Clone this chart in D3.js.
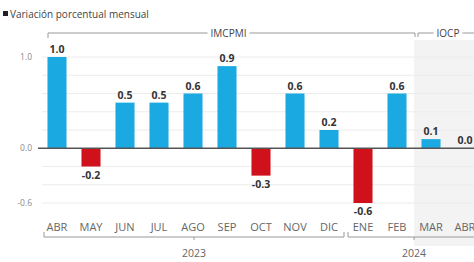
<!DOCTYPE html>
<html lang="es">
<head>
<meta charset="UTF-8">
<title>Variación porcentual mensual</title>
<script src="https://d3js.org/d3.v7.min.js"></script>
<style>
  body { margin: 0; background: #fff; }
  text { font-family: 'Open Sans', sans-serif; }
</style>
</head>
<body>
<script>
// Data
const months = ["ABR", "MAY", "JUN", "JUL", "AGO", "SEP", "OCT", "NOV", "DIC", "ENE", "FEB", "MAR", "ABR "];
const values = [1.0, -0.2, 0.5, 0.5, 0.6, 0.9, -0.3, 0.6, 0.2, -0.6, 0.6, 0.1, 0.0];
const yTicks = [1.0, 0.0, -0.6];
const gridTicks = [1.0, 0.8, 0.6, 0.4, 0.2, -0.2, -0.4, -0.6];
const years = [{label: "2023", from: 0, to: 8}, {label: "2024", from: 9, to: 12}];
const series = [{label: "IMCPMI", from: 0, to: 10}, {label: "IOCP", from: 11, to: 12}];

const W = 474, H = 262;
const svg = d3.select("body").append("svg").attr("width", W).attr("height", H);

const x = d3.scaleBand().domain(months).range([40, 482]).paddingInner(0.44).paddingOuter(0.22);
const y = d3.scaleLinear().domain([-0.6, 1.0]).range([203, 57]);
const step = x.step();
const cx = i => x(months[i]) + x.bandwidth() / 2;

// shaded area for IOCP
svg.append("rect")
    .attr("x", cx(11) - step / 2).attr("y", 40)
    .attr("width", W).attr("height", 206)
    .attr("fill", "#f3f3f3");

// gridlines
svg.selectAll(".grid").data(gridTicks).enter().append("line")
    .attr("x1", 42).attr("x2", W)
    .attr("y1", d => y(d)).attr("y2", d => y(d))
    .attr("stroke", "#ececec").attr("stroke-width", 1);

// y labels
svg.selectAll(".ylab").data(yTicks).enter().append("text")
    .attr("x", 32).attr("y", d => y(d) + 3)
    .attr("text-anchor", "end")
    .attr("font-size", 8.5).attr("fill", "#8a8a8a")
    .text(d => d.toFixed(1));

// bars
svg.selectAll(".bar").data(values).enter().append("rect")
    .attr("x", (d, i) => x(months[i]))
    .attr("width", x.bandwidth())
    .attr("y", d => y(Math.max(0, d)))
    .attr("height", d => Math.abs(y(d) - y(0)))
    .attr("fill", d => d < 0 ? "#d0101a" : "#1ba9e2");

// zero line
svg.append("line")
    .attr("x1", 38).attr("x2", W)
    .attr("y1", y(0)).attr("y2", y(0))
    .attr("stroke", "#555").attr("stroke-width", 1.5);

// value labels
svg.selectAll(".val").data(values).enter().append("text")
    .attr("x", (d, i) => cx(i))
    .attr("y", d => d < 0 ? y(d) + 12 : y(d) - 4)
    .attr("text-anchor", "middle")
    .attr("font-size", 10.5).attr("font-weight", "bold").attr("fill", "#333")
    .text(d => d.toFixed(1));

// month labels
svg.selectAll(".mon").data(months).enter().append("text")
    .attr("x", (d, i) => cx(i))
    .attr("y", 231)
    .attr("text-anchor", "middle")
    .attr("font-size", 11).attr("fill", "#666")
    .text(d => d.trim());

// year brackets
const by = 237;
years.forEach((g, k) => {
  const x0 = cx(g.from) - step / 2 + (k === 0 ? 4 : 2);
  const x1 = k === years.length - 1 ? W + 5 : cx(g.to) + step / 2 - 2;
  svg.append("path")
      .attr("d", `M${x0},${by - 5}V${by}H${x1}V${by - 5}`)
      .attr("fill", "none").attr("stroke", "#999").attr("stroke-width", 1);
  const mid = k === 0 ? (x0 + x1) / 2 : cx(11) - step / 2;
  svg.append("line").attr("x1", mid).attr("x2", mid).attr("y1", by).attr("y2", by + 3)
      .attr("stroke", "#999");
  svg.append("text")
      .attr("x", mid).attr("y", 257)
      .attr("text-anchor", "middle")
      .attr("font-size", 10.5).attr("fill", "#666")
      .text(g.label);
});

// series brackets on top
const ty = 33;
series.forEach((s, k) => {
  const x0 = k === 0 ? cx(s.from) - 9 : cx(s.from) - step / 2 + 4;
  const x1 = k === 0 ? cx(s.to) + step / 2 + 1 : W + 10;
  const g = svg.append("g");
  g.append("path")
      .attr("d", k === 0 ? `M${x0},${ty + 5}V${ty}H${x1}V${ty + 4}` : `M${x0},${ty + 4}V${ty}H${x1}`)
      .attr("fill", "none").attr("stroke", "#999").attr("stroke-width", 1);
  const t = g.append("text")
      .attr("x", (x0 + x1) / 2 - 3).attr("y", ty + 3.5)
      .attr("text-anchor", "middle")
      .attr("font-size", 10).attr("fill", "#444")
      .text(s.label);
  const bb = t.node().getBBox();
  g.insert("rect", "text")
      .attr("x", bb.x - 3).attr("y", bb.y).attr("width", bb.width + 6).attr("height", bb.height)
      .attr("fill", "#fff");
});

// title
svg.append("rect").attr("x", 3).attr("y", 11).attr("width", 5).attr("height", 5).attr("fill", "#222");
svg.append("text")
    .attr("x", 10).attr("y", 18)
    .attr("font-size", 10).attr("fill", "#444")
    .text("Variación porcentual mensual");
</script>
</body>
</html>
